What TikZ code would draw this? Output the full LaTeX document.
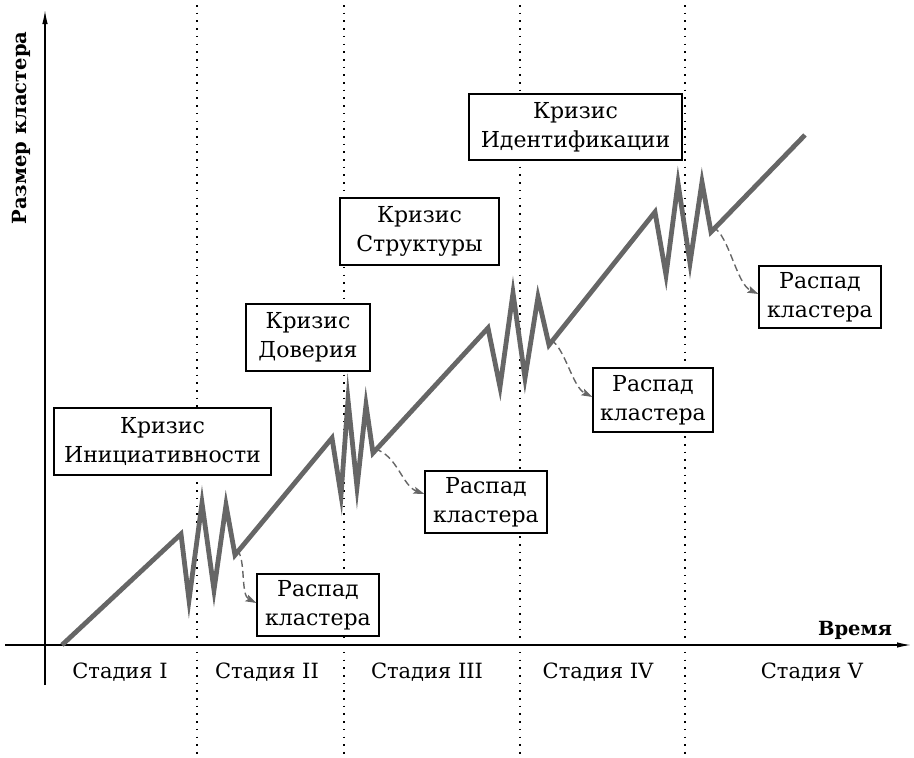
\documentclass[tikz,border=0pt]{standalone}
\usepackage{fontspec}
\setmainfont{DejaVu Serif}
\usetikzlibrary{arrows.meta}
\definecolor{linegray}{HTML}{666666}
\begin{document}
\begin{tikzpicture}[x=1pt,y=-1pt,
  crisis/.style={draw=black, line width=1.1pt, fill=white, align=center, inner sep=0pt,
    font=\fontsize{22}{29}\selectfont},
  decay/.style={crisis},
  stagelbl/.style={font=\fontsize{21}{24}\selectfont, inner sep=0pt},
  axislbl/.style={font=\bfseries\fontsize{19.5}{22}\selectfont, inner sep=0pt},
  axis/.style={line width=1.3pt, -{Latex[length=14pt,width=5.5pt]}},
  divider/.style={line width=1.3pt, dash pattern=on 1.6pt off 6.1pt},
  mainline/.style={draw=linegray, line width=4.8pt, line join=miter, miter limit=40},
  dasharrow/.style={draw=linegray, line width=1.4pt, dash pattern=on 7pt off 4pt,
    -{Stealth[length=11pt,width=7pt,inset=2pt]}}
]
\useasboundingbox (0,0) rectangle (914,758);

% stage dividers
\foreach \x in {197,344,520,685} \draw[divider] (\x,5) -- (\x,758);

% axes
\coordinate (yb) at (45,685);
\coordinate (yt) at (45,10);
\coordinate (xl) at (5,645);
\coordinate (xr) at (911,645);
\draw[axis] (yb) -- (yt);
\draw[axis] (xl) -- (xr);
\node[axislbl, rotate=90] (ylab) at (21,128) {Размер кластера};
\node[axislbl] (xlab) at (855,630) {Время};

% stages
\node[stagelbl] (s1) at (120,672) {Стадия I};
\node[stagelbl] (s2) at (267,672) {Стадия II};
\node[stagelbl] (s3) at (427,672) {Стадия III};
\node[stagelbl] (s4) at (598,672) {Стадия IV};
\node[stagelbl] (s5) at (812,672) {Стадия V};

% main growth line
\draw[mainline] (62,645) -- (181,534) -- (189,600) -- (202,503) -- (214,590)
  -- (226,505) -- (235,555) coordinate (z1)
  -- (332,438) -- (341,495) -- (348,400) -- (357,487) -- (366,405)
  -- (373,453) coordinate (z2)
  -- (488,328) -- (500,387) -- (513,293) -- (525,378) -- (538,297)
  -- (549,345) coordinate (z3)
  -- (655,212) -- (666,275) -- (678,183) -- (690,263) -- (702,182)
  -- (711,232) coordinate (z4) -- (805,135);

% crisis boxes
\node[crisis, minimum width=217pt, minimum height=67pt] (c1) at (162.5,441.5) {Кризис\\Инициативности};
\node[crisis, minimum width=124pt, minimum height=67pt] (c2) at (308,337.5) {Кризис\\Доверия};
\node[crisis, minimum width=159pt, minimum height=67pt] (c3) at (419.5,231.5) {Кризис\\Структуры};
\node[crisis, minimum width=213pt, minimum height=66pt] (c4) at (575.5,127) {Кризис\\Идентификации};

% decay boxes
\node[decay, minimum width=122pt, minimum height=62pt] (r1) at (318,605) {Распад\\кластера};
\node[decay, minimum width=122pt, minimum height=62pt] (r2) at (486,502) {Распад\\кластера};
\node[decay, minimum width=120pt, minimum height=64pt] (r3) at (653,400) {Распад\\кластера};
\node[decay, minimum width=122pt, minimum height=62pt] (r4) at (820,297) {Распад\\кластера};

% decay arrows
\draw[dasharrow] ([xshift=2pt,yshift=5pt]z1) .. controls +(9,8) and +(-16,-8) .. ([yshift=2pt]r1.west);
\draw[dasharrow] ([xshift=2pt,yshift=4pt]z2) .. controls +(22,6) and +(-22,-8) .. ([yshift=8pt]r2.west);
\draw[dasharrow] ([xshift=2pt,yshift=5pt]z3) .. controls +(14,8) and +(-20,-10) .. ([yshift=3pt]r3.west);
\draw[dasharrow] ([xshift=2pt,yshift=5pt]z4) .. controls +(16,8) and +(-22,-10) .. ([yshift=3pt]r4.west);
\end{tikzpicture}
\end{document}
